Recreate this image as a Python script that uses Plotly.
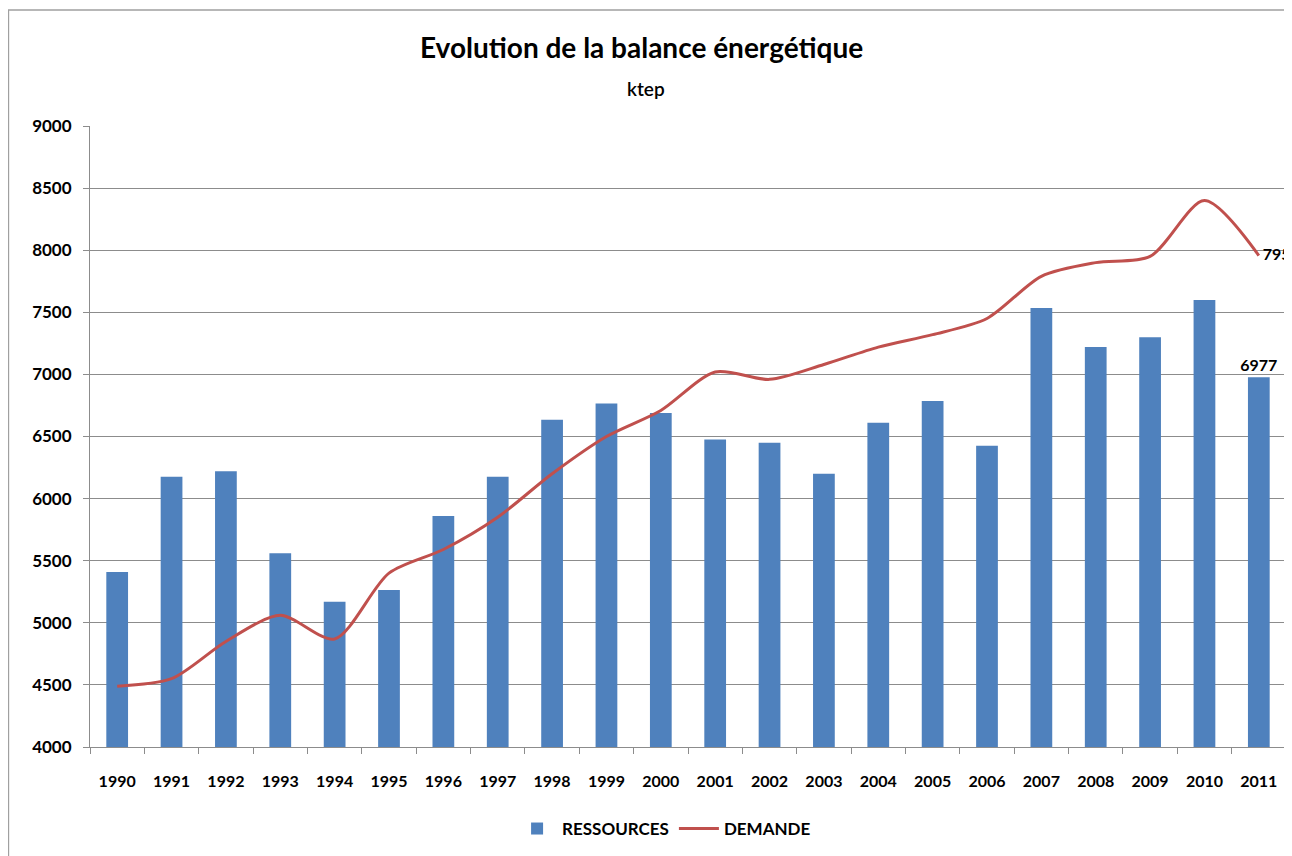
import plotly.graph_objects as go

years = [str(y) for y in range(1990, 2012)]
ressources = [5410, 6175, 6220, 5560, 5170, 5265, 5860, 6175, 6635, 6765, 6690,
              6475, 6450, 6200, 6610, 6785, 6425, 7535, 7220, 7300, 7600, 6977]
demande = [4490, 4550, 4850, 5060, 4870, 5400, 5590, 5850, 6200, 6500, 6710,
           7020, 6960, 7080, 7220, 7320, 7450, 7790, 7900, 7950, 8400, 7957]

bar_text = [""] * (len(years) - 1) + [str(ressources[-1])]
line_text = [""] * (len(years) - 1) + [" " + str(demande[-1])]

FONT = "Lato"
BOLD = dict(family=FONT, size=16, color="#000000", weight="bold")

fig = go.Figure()
fig.add_trace(go.Bar(
    x=years, y=ressources, name="RESSOURCES",
    marker_color="#4F81BD", marker_line_width=0,
    text=bar_text, textposition="outside", cliponaxis=False,
    constraintext="none", textfont=BOLD,
))
fig.add_trace(go.Scatter(
    x=years, y=demande, name="DEMANDE", mode="lines+text",
    line=dict(color="#C0504D", width=3, shape="spline", smoothing=0.8),
    text=line_text, textposition="middle right", cliponaxis=False,
    textfont=BOLD,
))

# chart frame
fig.add_shape(type="rect", xref="paper", yref="paper",
              x0=-0.0682, x1=1.05, y0=-0.3, y1=1.1868,
              line=dict(color="#A0A0A0", width=1.5), layer="below")

fig.add_annotation(text="<b>Evolution de la balance énergétique</b>",
                   xref="paper", yref="paper", x=0.4615, y=1.127, yanchor="middle",
                   showarrow=False, font=dict(family=FONT, size=28, color="#000000"))
fig.add_annotation(text="ktep", xref="paper", yref="paper", x=0.465, y=1.061,
                   yanchor="middle", showarrow=False,
                   font=dict(family=FONT, size=19, color="#000000", weight=600))

fig.update_layout(
    width=1292, height=856,
    margin=dict(l=82, r=14, t=118, b=117),
    plot_bgcolor="white", paper_bgcolor="white",
    bargap=0.6,
    showlegend=True,
    legend=dict(orientation="h", x=0.48, xanchor="center", y=-0.132, yanchor="middle",
                font=dict(family=FONT, size=17, color="#000000", weight="bold"),
                itemwidth=40),
    font=dict(family=FONT, color="#000000"),
)
fig.update_yaxes(range=[4000, 9000], dtick=500, showgrid=True, gridcolor="#8C8C8C",
                 gridwidth=1, showline=True, linecolor="#8C8C8C", ticks="outside",
                 ticklen=6, tickcolor="#8C8C8C",
                 tickfont=dict(family=FONT, size=17, color="#000000", weight="bold"),
                 ticklabelstandoff=8, zeroline=False)
fig.update_xaxes(range=[-0.5, len(years) - 0.5], showline=True, linecolor="#8C8C8C",
                 ticks="outside", ticklen=6, tickcolor="#8C8C8C", tickson="boundaries",
                 tickfont=BOLD, ticklabelstandoff=20)

fig.write_html("out.html")
